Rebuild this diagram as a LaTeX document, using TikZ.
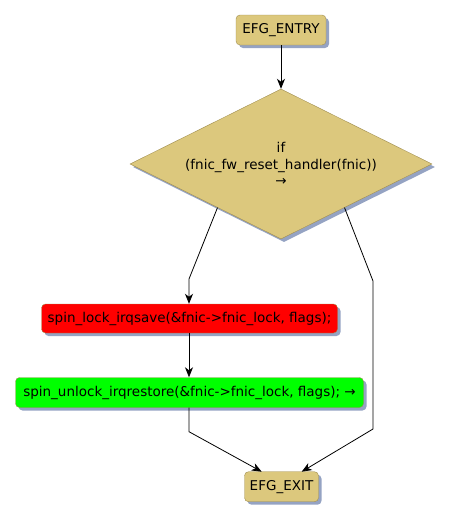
\documentclass[tikz,border=0pt]{standalone}
\usepackage{fontspec}
\setmainfont{DejaVu Sans}
\usetikzlibrary{shapes.geometric,shadows,arrows.meta,calc}
\definecolor{khaki}{HTML}{DCC87D}
\definecolor{khakiborder}{HTML}{A08E50}
\definecolor{shadowc}{HTML}{95A3C3}
\definecolor{redfill}{HTML}{FF0000}
\definecolor{greenfill}{HTML}{00FF00}
\tikzset{
  box/.style={draw=khakiborder, rounded corners=4pt, inner sep=0pt, anchor=center,
    drop shadow={shadow xshift=3pt, shadow yshift=-3pt, fill=shadowc, opacity=1},
    font=\fontsize{13.5}{16.5}\selectfont},
  decision/.style={diamond, draw=khakiborder, fill=khaki, inner sep=0pt,
    aspect=2.013, minimum width=302pt, minimum height=150pt, align=center,
    drop shadow={shadow xshift=3pt, shadow yshift=-3pt, fill=shadowc, opacity=1},
    font=\fontsize{13.5}{16.5}\selectfont},
  flow/.style={draw=black, line width=0.8pt, -{Stealth[length=10pt,width=8pt,inset=3pt]}},
}
\begin{document}
\begin{tikzpicture}[x=1pt,y=-1pt]
\useasboundingbox (0,0) rectangle (451,520);
\node[box, fill=khaki, minimum width=90pt, minimum height=30pt] (entry) at (281,30) {EFG\_ENTRY};
\node[decision] (dec) at (281,164) {if\\(fnic\_fw\_reset\_handler(fnic))\\→};
\node[box, fill=redfill, minimum width=296pt, minimum height=29pt] (lock) at (189.5,318.5) {spin\_lock\_irqsave(\&fnic->fnic\_lock, flags);};
\node[box, fill=greenfill, minimum width=348pt, minimum height=30pt] (unlock) at (189.5,392.5) {spin\_unlock\_irqrestore(\&fnic->fnic\_lock, flags); →};
\node[box, fill=khaki, minimum width=74pt, minimum height=30pt] (exit) at (281.5,486.7) {EFG\_EXIT};

\coordinate (dl) at ($(dec.west)!0.58!(dec.south)$);
\coordinate (dr) at ($(dec.south)!0.42!(dec.east)$);
\coordinate (bl) at (189,279);
\coordinate (br1) at (373,281);
\coordinate (br2) at (373,429);
\coordinate (gl) at (189,431.7);
\coordinate (exl) at (261.7,471.7);
\coordinate (exr) at (301.7,471.7);

\draw[flow] (entry.south) -- (dec.north);
\draw[flow] (dl) -- (bl) -- (lock.north -| bl);
\draw[flow] (dr) -- (br1) -- (br2) -- (exr);
\draw[flow] (lock.south -| bl) -- (unlock.north -| bl);
\draw[flow] (unlock.south -| gl) -- (gl) -- (exl);
\end{tikzpicture}
\end{document}
